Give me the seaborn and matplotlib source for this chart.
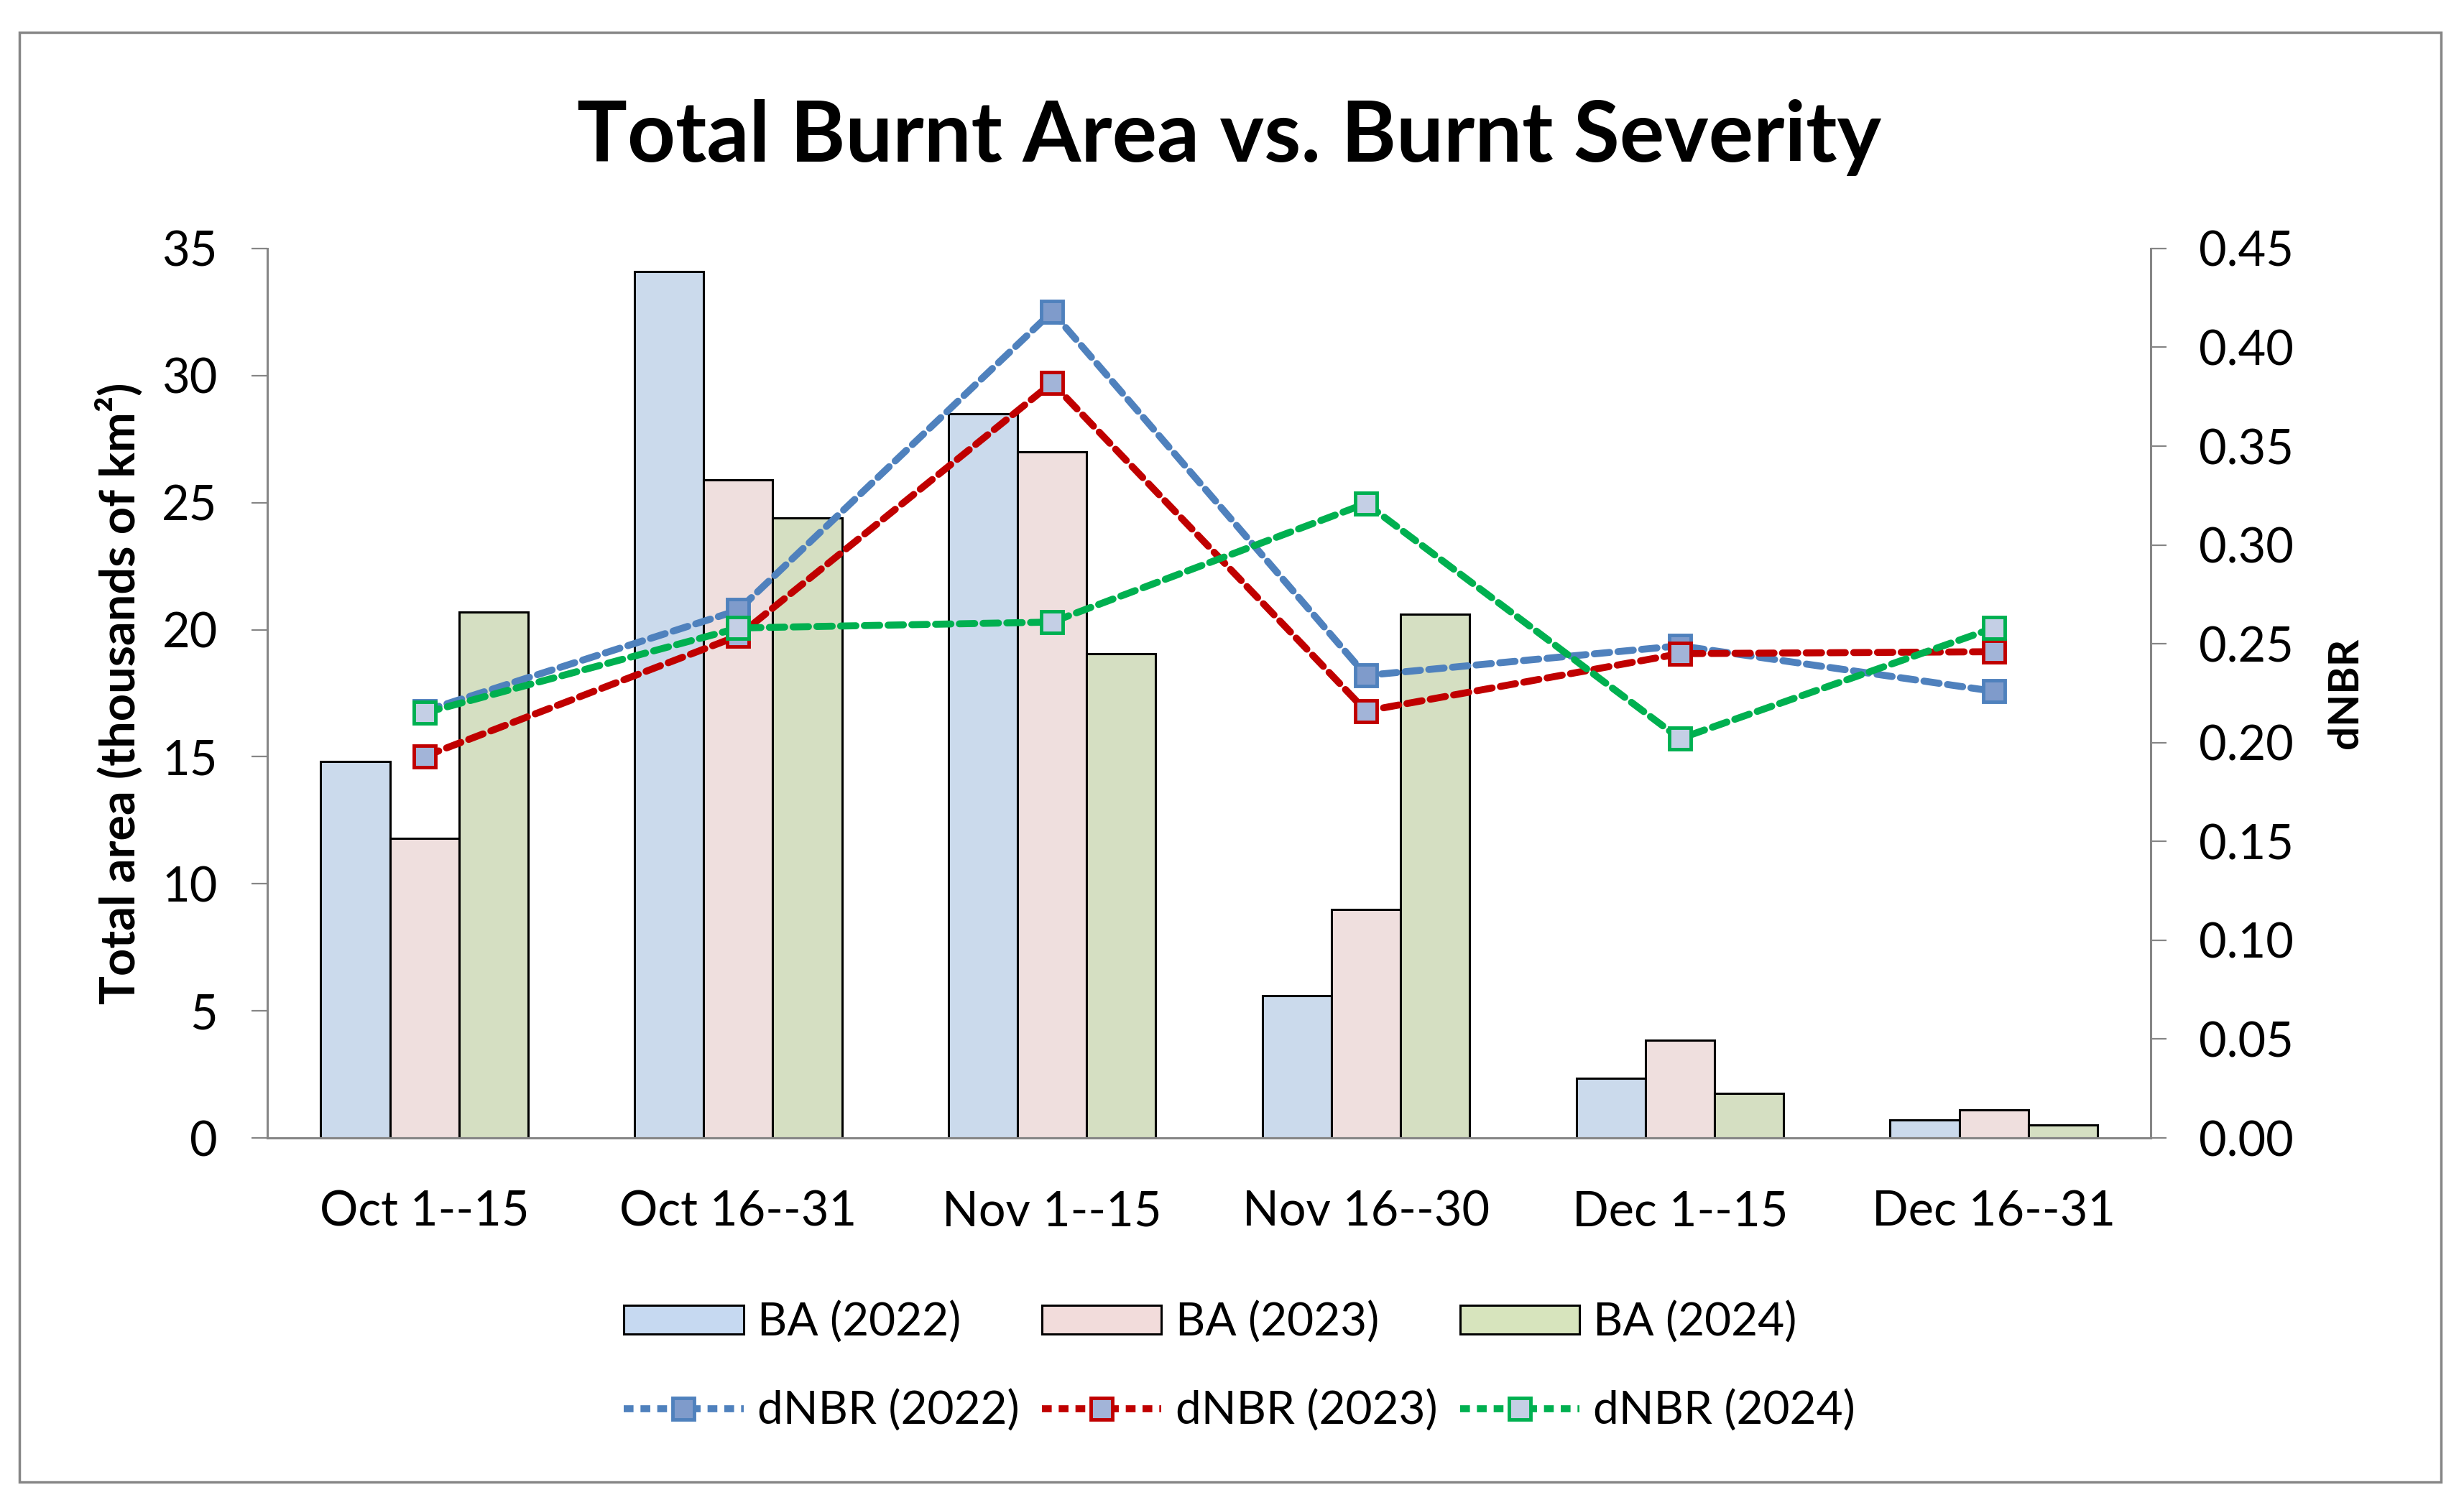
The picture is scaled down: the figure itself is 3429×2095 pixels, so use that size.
import numpy as np
import pandas as pd
import matplotlib
matplotlib.use("Agg")
import matplotlib.pyplot as plt
import seaborn as sns
from matplotlib.patches import Rectangle
from matplotlib.lines import Line2D

# data
periods = ["Oct 1--15", "Oct 16--31", "Nov 1--15", "Nov 16--30", "Dec 1--15", "Dec 16--31"]
ba_2022 = [14.8, 34.1, 28.5, 5.6, 2.35, 0.7]
ba_2023 = [11.8, 25.9, 27.0, 9.0, 3.85, 1.1]
ba_2024 = [20.7, 24.4, 19.05, 20.6, 1.75, 0.5]
dnbr_2022 = [0.216, 0.267, 0.418, 0.234, 0.249, 0.226]
dnbr_2023 = [0.193, 0.254, 0.382, 0.216, 0.245, 0.246]
dnbr_2024 = [0.215, 0.258, 0.261, 0.321, 0.202, 0.258]
years = ["2022", "2023", "2024"]

bar_colors = ["#C6D9F1", "#F2DCDB", "#D7E4BD"]
line_colors = ["#4F81BD", "#C00000", "#00B050"]
marker_fill = ["#7F9BCB", "#A2B4D8", "#C4CFE5"]
grey = "#868686"

sns.set_theme(style="white")
plt.rcParams["font.family"] = ["Lato", "DejaVu Sans"]
plt.rcParams["text.color"] = "black"
plt.rcParams["xtick.labelcolor"] = "black"
plt.rcParams["ytick.labelcolor"] = "black"
plt.rcParams["axes.labelcolor"] = "black"

bars = pd.DataFrame({
    "period": periods * 3,
    "year": np.repeat(years, len(periods)),
    "area": ba_2022 + ba_2023 + ba_2024,
})

fig = plt.figure(figsize=(34.3, 20.95), dpi=100)
ax = fig.add_axes([0.1085, 0.2439, 0.8726 - 0.1085, 0.8349 - 0.2439])

sns.barplot(
    data=bars,
    x="period",
    y="area",
    hue="year",
    palette=bar_colors,
    width=0.66,
    edgecolor="black",
    linewidth=2.2,
    legend=False,
    ax=ax
)

ax.set_xlim(-0.5, 5.5)
ax.set_ylim(0, 35)
ax.set_yticks(np.arange(0, 36, 5))
ax.set_xlabel("")
ax.set_ylabel("Total area (thousands of km²)", fontsize=48, fontweight="bold")
ax.yaxis.set_label_coords(-0.066, 0.5)

ax.set_xticks(np.arange(len(periods)))
ax.set_xticklabels(periods)
ax.set_xticks(np.arange(-0.5, 6, 1), minor=True)
ax.tick_params(axis="x", which="major", length=0, pad=52, labelsize=48)
ax.tick_params(axis="x", which="minor", length=20, width=1.6, color=grey, direction="out")
ax.tick_params(axis="y", length=16, width=1.6, color=grey, direction="out", pad=34, labelsize=48, left=True)

for side in ["left", "bottom"]:
    ax.spines[side].set_color(grey)
    ax.spines[side].set_linewidth(2.2)
ax.spines["top"].set_visible(False)
ax.spines["right"].set_visible(False)

ax2 = ax.twinx()
x = np.arange(len(periods))
for vals, lc, mf in zip([dnbr_2022, dnbr_2023, dnbr_2024], line_colors, marker_fill):
    sns.lineplot(
        x=x,
        y=vals,
        ax=ax2,
        color=lc,
        marker="s",
        markersize=21,
        markerfacecolor=mf,
        markeredgecolor=lc,
        markeredgewidth=3.5,
        legend=False
    )
    ln = ax2.lines[-1]
    ln.set_linewidth(7)
    ln.set_dashes((2.2, 1.2))
    ln.set_dash_capstyle("round")

ax2.set_ylim(0, 0.45)
ax2.set_yticks(np.arange(0, 0.46, 0.05))
ax2.yaxis.set_major_formatter(matplotlib.ticker.FormatStrFormatter("%.2f"))
ax2.set_ylabel("dNBR", fontsize=42, fontweight="bold", rotation=90)
ax2.yaxis.set_label_coords(1.0935, 0.5)
ax2.tick_params(axis="y", length=16, width=1.6, color=grey, direction="out", pad=32, labelsize=48, right=True)
ax2.spines["right"].set_color(grey)
ax2.spines["right"].set_linewidth(2.2)
for side in ["top", "left", "bottom"]:
    ax2.spines[side].set_visible(False)
ax2.grid(False)
ax.grid(False)
ax2.set_xlim(-0.5, 5.5)

# title
fig.text(0.4987, 0.8926, "Total Burnt Area vs. Burnt Severity",
         ha="center", va="baseline", fontsize=84, fontweight="bold")

# legend: bars on first row, lines on second
handles = []
labels = []
for yr, bc, lc, mf in zip(years, bar_colors, line_colors, marker_fill):
    handles.append(Rectangle((0, 0), 1, 1, facecolor=bc, edgecolor="black", linewidth=2.2))
    labels.append(f"BA ({yr})")
    handles.append(Line2D([], [], color=lc, linewidth=7, dashes=(1.4, 1.0),
                          marker="s", markersize=21, markerfacecolor=mf,
                          markeredgecolor=lc, markeredgewidth=3.5))
    labels.append(f"dNBR ({yr})")

fig.legend(
    handles,
    labels,
    ncol=3,
    loc="center",
    bbox_to_anchor=(0.503, 0.092),
    frameon=False,
    fontsize=46,
    handlelength=2.6,
    handleheight=0.6,
    handletextpad=0.3,
    columnspacing=0.5,
    labelspacing=1.0
)

# outer frame
fig.patches.append(Rectangle((0.0079, 0.0153), 0.9825, 0.9632, transform=fig.transFigure,
                             fill=False, edgecolor=grey, linewidth=2.5))

fig.savefig("out.png", dpi=100)
